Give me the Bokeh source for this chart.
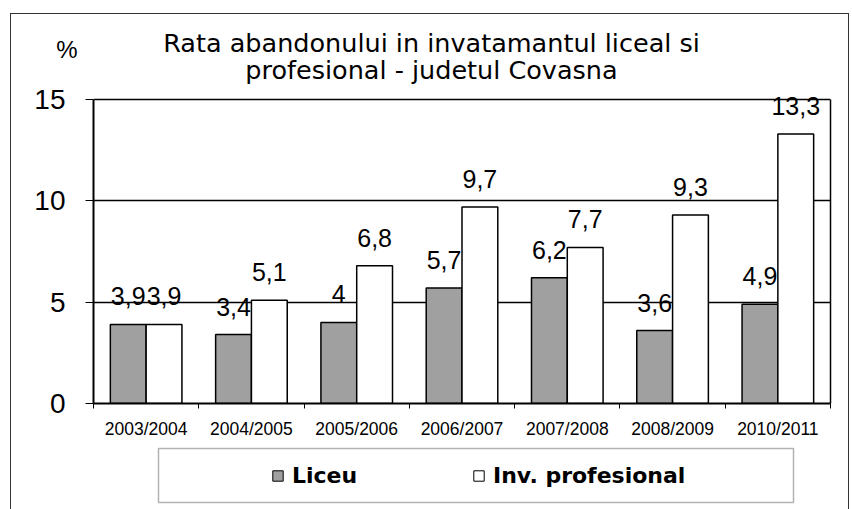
import numpy as np
from bokeh.plotting import figure
from bokeh.layouts import column
from bokeh.models import (Range1d, FixedTicker, ColumnDataSource, LabelSet, Label,
                          BoxAnnotation, Legend, LegendItem, LinearAxis)
from bokeh.core.properties import value
from bokeh.embed import file_html
from bokeh.resources import INLINE

# ---- data ----
years = ["2003/2004", "2004/2005", "2005/2006", "2006/2007", "2007/2008", "2008/2009", "2010/2011"]
liceu = [3.9, 3.4, 4.0, 5.7, 6.2, 3.6, 4.9]
profesional = [3.9, 5.1, 6.8, 9.7, 7.7, 9.3, 13.3]
series_names = ["Liceu", "Inv. profesional"]
title_lines = ["Rata abandonului in invatamantul liceal si", "profesional - judetul Covasna"]
y_ticks = [0, 5, 10, 15]
unit_label = "%"

LICEU_FILL = "#a0a0a0"
PROF_FILL = "white"

# ---- layout (pixels inside the bordered box; box content origin = page (11, 14)) ----
W = 837
H_TOP, H_MAIN, H_BOT = 70, 358, 67
FL, FR = 82, 819          # frame left/right (shared by all three figures)
MB_TOP, MB_BOT = 6, 39    # main figure borders
n = len(years)
YMAX = y_ticks[-1]
FRAME_H = H_MAIN - MB_TOP - MB_BOT
Y_END = YMAX * FRAME_H / (FRAME_H - 9)


def fmt(v):
    return f"{v:g}".replace(".", ",")


def blank_fig(h):
    f = figure(width=W, height=h, output_backend="svg", toolbar_location=None,
               x_range=Range1d(FL, FR), y_range=Range1d(0, h),
               x_axis_type=None, y_axis_type=None,
               min_border_left=FL, min_border_right=W - FR,
               min_border_top=0, min_border_bottom=0, title=None)
    f.grid.visible = False
    f.outline_line_color = None
    f.background_fill_color = "white"
    f.border_fill_color = "white"
    return f


# ---------------- top: titles ----------------
top = blank_fig(H_TOP)
for txt, ypx in zip(title_lines, (28, 55)):
    top.add_layout(Label(x=420, y=H_TOP - ypx, text=txt, text_align="center",
                         text_baseline="alphabetic", text_font="DejaVu Sans",
                         text_font_size="25.5px", text_color="black"))
unit_axis = LinearAxis(ticker=FixedTicker(ticks=[]), axis_line_color=None,
                       major_tick_out=0, major_tick_in=0, minor_tick_out=0, minor_tick_in=0,
                       major_label_text_font_size="0px",
                       axis_label=unit_label, axis_label_orientation="horizontal",
                       axis_label_standoff=16, axis_label_text_font="Liberation Sans",
                       axis_label_text_font_size="24px", axis_label_text_font_style="normal",
                       axis_label_text_color="black")
top.add_layout(unit_axis, "left")

# ---------------- main chart ----------------
centers = np.arange(n) + 0.5
OFF, BW = 0.17, 0.34
src = ColumnDataSource(dict(
    xl=centers - OFF, xp=centers + OFF,
    liceu=liceu, prof=profesional,
    tl=[fmt(v) for v in liceu], tp=[fmt(v) for v in profesional],
))

p = figure(width=W, height=H_MAIN, output_backend="svg", toolbar_location=None,
           x_range=Range1d(0, n), y_range=Range1d(0, Y_END),
           min_border_left=FL, min_border_right=W - FR,
           min_border_top=MB_TOP, min_border_bottom=MB_BOT, title=None)
p.background_fill_color = "white"
p.border_fill_color = "white"
p.outline_line_color = None

r1 = p.vbar(x="xl", top="liceu", width=BW, source=src,
            fill_color=LICEU_FILL, line_color="black", line_width=1.5)
r2 = p.vbar(x="xp", top="prof", width=BW, source=src,
            fill_color=PROF_FILL, line_color="black", line_width=1.5)

p.xaxis.ticker = FixedTicker(ticks=list(centers), minor_ticks=list(range(n + 1)))
p.xaxis.major_label_overrides = {float(c): y for c, y in zip(centers, years)}
p.xaxis.major_tick_out = 0
p.xaxis.major_tick_in = 0
p.xaxis.minor_tick_out = 5
p.xaxis.minor_tick_in = 0
p.xaxis.minor_tick_line_color = "black"
p.xaxis.axis_line_color = "black"
p.xaxis.axis_line_width = 2
p.xaxis.major_label_text_font = "Liberation Sans"
p.xaxis.major_label_text_font_size = "17.5px"
p.xaxis.major_label_text_color = "black"
p.xaxis.major_label_standoff = 10
p.xgrid.visible = False

p.yaxis.ticker = FixedTicker(ticks=y_ticks)
p.yaxis.bounds = (0, YMAX)
p.yaxis.major_tick_out = 8
p.yaxis.major_tick_in = 0
p.yaxis.minor_tick_out = 0
p.yaxis.minor_tick_in = 0
p.yaxis.major_tick_line_color = "black"
p.yaxis.axis_line_color = "black"
p.yaxis.axis_line_width = 2
p.yaxis.major_label_text_font = "Liberation Sans"
p.yaxis.major_label_text_font_size = "28px"
p.yaxis.major_label_text_align = "right"
p.yaxis.major_label_text_color = "black"
p.yaxis.major_label_standoff = 20
p.ygrid.grid_line_color = "black"
p.ygrid.grid_line_width = 1.5

right_axis = LinearAxis(ticker=FixedTicker(ticks=[]), bounds=(0, YMAX),
                        major_tick_out=0, major_tick_in=0, minor_tick_out=0, minor_tick_in=0,
                        major_label_text_font_size="0px", axis_line_color="black",
                        axis_line_width=1.5)
p.add_layout(right_axis, "right")

for xcol, ycol, tcol in (("xl", "liceu", "tl"), ("xp", "prof", "tp")):
    p.add_layout(LabelSet(x=xcol, y=ycol, text=tcol, source=src, text_align="center",
                          text_baseline="alphabetic", y_offset=19,
                          text_font=value("Liberation Sans"), text_font_size=value("25px"),
                          text_color="black"))

# ---------------- bottom: legend ----------------
bot = blank_fig(H_BOT)
g1 = bot.vbar(x=[np.nan], top=[np.nan], width=1, fill_color=LICEU_FILL,
              line_color="black", line_width=1)
g2 = bot.vbar(x=[np.nan], top=[np.nan], width=1, fill_color=PROF_FILL,
              line_color="black", line_width=1)
bot.add_layout(BoxAnnotation(left=147, right=782, top=H_BOT - 6, bottom=H_BOT - 60,
                             fill_color=None, fill_alpha=0, line_color="black",
                             line_width=1.5))
legend = Legend(items=[LegendItem(label=series_names[0], renderers=[g1]),
                       LegendItem(label=series_names[1], renderers=[g2])],
                orientation="horizontal", location=(260 - FL, 21),
                padding=0, margin=0, spacing=110, label_width=70,
                glyph_width=13, glyph_height=13, label_standoff=8,
                border_line_color=None, background_fill_alpha=0,
                label_text_font="DejaVu Sans", label_text_font_style="bold",
                label_text_font_size="22px", label_text_color="black")
bot.add_layout(legend, "center")

layout = column(top, p, bot, spacing=0,
                styles={"margin": "13px 0px 0px 10px",
                        "border-top": "1px solid #333333",
                        "border-left": "1px solid #333333",
                        "border-right": "1px solid #333333"})

open("out.html", "w").write(file_html(layout, INLINE))
